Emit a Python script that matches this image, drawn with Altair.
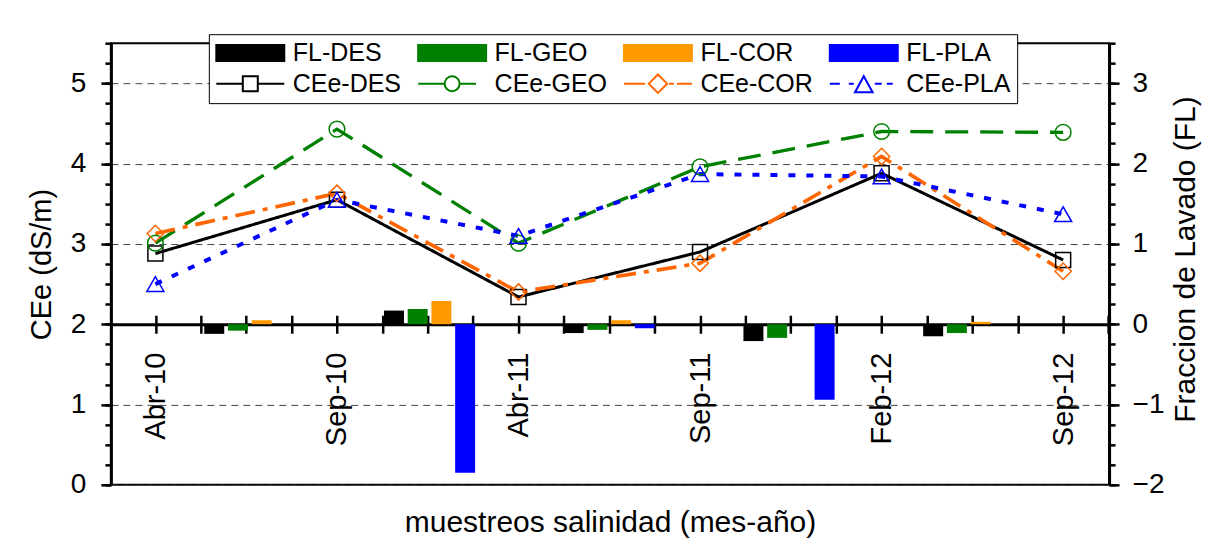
import altair as alt
import pandas as pd

# ---------------- data ----------------
fechas = ["Abr-10", "Sep-10", "Abr-11", "Sep-11", "Feb-12", "Sep-12"]
fecha_idx = [0, 1, 2, 3, 4, 5]

series_cee = ["CEe-DES", "CEe-GEO", "CEe-COR", "CEe-PLA"]
cee_des = [2.88, 3.55, 2.34, 2.90, 3.88, 2.80]
cee_geo = [3.01, 4.43, 3.01, 3.96, 4.40, 4.39]
cee_cor = [3.13, 3.63, 2.40, 2.76, 4.09, 2.66]
cee_pla = [2.50, 3.55, 3.10, 3.87, 3.84, 3.37]

series_fl = ["FL-DES", "FL-GEO", "FL-COR", "FL-PLA"]
periodo_idx = [0, 1, 2, 3, 4]
fl_des = [-0.12, 0.17, -0.11, -0.21, -0.15]
fl_geo = [-0.08, 0.19, -0.07, -0.17, -0.11]
fl_cor = [0.05, 0.29, 0.05, 0.00, 0.03]
fl_pla = [0.00, -1.85, -0.05, -0.94, 0.00]

# ---------------- styles ----------------
FONT = "Liberation Sans"
FS = 28
FT = 29
FL_LEG = 25
col_lines = ["#000000", "#008000", "#FF6600", "#0000FF"]
col_bars = ["#000000", "#008000", "#FF9900", "#0000FF"]
dashes = [[1, 0], [23, 12], [20, 8, 5, 8], [7, 11]]
widths = [3, 4, 4, 4]
shapes = ["square", "circle", "diamond", "triangle-up"]
msizes = [225, 290, 400, 380]

xdom = [-0.245, 5.253]
ydom_cee = [0, 5.5]
ydom_fl = [-2, 3.5]
W, H = 999, 442
zero_off = H * 2 / 5.5

# ---------------- tables ----------------
rows = []
for s, vals in zip(series_cee, [cee_des, cee_geo, cee_cor, cee_pla]):
    for i, v in zip(fecha_idx, vals):
        rows.append({"idx": i, "serie": s, "CEe": v})
df_cee = pd.DataFrame(rows)

rows = []
for k, (s, vals) in enumerate(zip(series_fl, [fl_des, fl_geo, fl_cor, fl_pla])):
    for p, v in zip(periodo_idx, vals):
        rows.append({"periodo": p, "k": k, "serie_fl": s, "FL": v})
df_fl = pd.DataFrame(rows)

# legend symbols (symbolSize 400 -> 10 px per path unit, centred 2.3 units right)
ley_dom = series_fl + series_cee
rect = "M-1.1,-0.8L5.7,-0.8L5.7,0.8L-1.1,0.8Z"
p_des = "M-1.1,0L1.55,0M3.05,0L5.7,0M1.55,-0.75L3.05,-0.75L3.05,0.75L1.55,0.75Z"
p_geo = "M-1.1,0L1.55,0M3.05,0L4.7,0M3.05,0A0.75,0.75 0 1,1 1.55,0A0.75,0.75 0 1,1 3.05,0Z"
p_cor = "M-1.1,0L1.0,0M3.4,0L3.9,0M4.2,0L5.7,0M2.3,-0.92L3.22,0L2.3,0.92L1.38,0Z"
p_pla = "M-1.1,0L-0.1,0M0.8,0L1.3,0M3.4,0L4.1,0M4.6,0L5.2,0M2.3,-0.75L3.18,0.85L1.42,0.85Z"
ley_paths = [rect, rect, rect, rect, p_des, p_geo, p_cor, p_pla]
ley_fill = col_bars + ["transparent"] * 4
ley_stroke = col_bars + col_lines

xs = alt.Scale(domain=xdom, nice=False, zero=False)
ticks_x = [i * 0.25 for i in range(0, 22)]
lab_expr = "datum.value % 1 == 0 ? " + str(fechas) + "[datum.value] : ''"

stroke_scale = alt.Scale(domain=series_cee, range=col_lines)

# A: lines with left axis + x labels axis
lines = alt.Chart(df_cee).mark_line(clip=False).encode(
    x=alt.X("idx:Q", scale=xs, axis=alt.Axis(
        orient="bottom", offset=-zero_off, values=ticks_x, labelExpr=lab_expr,
        labelAngle=270, labelAlign="right", labelBaseline="middle",
        labelPadding=19, labelFontSize=29, tickSize=9, tickWidth=2.5, tickColor="black",
        domainColor="black", domainWidth=3, grid=False,
        title="muestreos salinidad (mes-año)", titleX=W / 2, titleY=198,
        titleBaseline="middle", titleAlign="center", titleFontSize=FT + 1,
        titleFontWeight="normal")),
    y=alt.Y("CEe:Q", scale=alt.Scale(domain=ydom_cee, nice=False), axis=alt.Axis(
        orient="left", values=[0, 1, 2, 3, 4, 5], tickSize=10, tickWidth=2.5,
        labelPadding=15, domainWidth=3, domainColor="black", tickColor="black",
        grid=True, gridDash=[7, 5], gridColor="#444444", gridWidth=1,
        title="CEe (dS/m)", titleAngle=270, titleX=-69, titleY=H / 2,
        titleBaseline="middle", titleAlign="center", titleFontSize=FT,
        titleFontWeight="normal")),
    stroke=alt.Stroke("serie:N", scale=stroke_scale, legend=None),
    strokeDash=alt.StrokeDash("serie:N", scale=alt.Scale(domain=series_cee, range=dashes), legend=None),
    strokeWidth=alt.StrokeWidth("serie:N", scale=alt.Scale(domain=series_cee, range=widths), legend=None),
)

# B: markers with minor ticks (left, and up on the zero line)
points = alt.Chart(df_cee).mark_point(filled=False, strokeWidth=1.5, opacity=1).encode(
    x=alt.X("idx:Q", scale=xs, axis=alt.Axis(
        orient="top", offset=-(H - zero_off), values=ticks_x, labels=False,
        tickSize=9, tickWidth=2.5, tickColor="black", domain=False, grid=False, title=None)),
    y=alt.Y("CEe:Q", scale=alt.Scale(domain=ydom_cee, nice=False), axis=alt.Axis(
        orient="left", values=[i * 0.25 for i in range(0, 23)], labels=False,
        tickSize=6, tickWidth=2.5, tickColor="black", domain=False, grid=False, title=None)),
    stroke=alt.Stroke("serie:N", scale=stroke_scale, legend=None),
    shape=alt.Shape("serie:N", scale=alt.Scale(domain=series_cee, range=shapes), legend=None),
    size=alt.Size("serie:N", scale=alt.Scale(domain=series_cee, range=msizes), legend=None),
)

# D: bars on right axis
bars = alt.Chart(df_fl).transform_calculate(
    xpos="datum.periodo + 0.5 + (datum.k - 1.5) * 0.132"
).mark_bar(size=20, clip=False).encode(
    x=alt.X("xpos:Q", scale=xs, axis=None),
    y=alt.Y("FL:Q", scale=alt.Scale(domain=ydom_fl, nice=False, zero=True), axis=alt.Axis(
        orient="right", values=[-2, -1, 0, 1, 2, 3], tickSize=10, tickWidth=2.5,
        labelPadding=13, domainWidth=3, domainColor="black", tickColor="black",
        grid=False, title="Fraccion de Lavado (FL)", titleAngle=270, titleX=76,
        titleY=H / 2 - 5, titleBaseline="middle", titleAlign="center", titleFontSize=FT + 1,
        titleFontWeight="normal")),
    color=alt.Color("serie_fl:N", scale=alt.Scale(domain=series_fl, range=col_bars), legend=None),
)

# C: legend + right minor ticks (no data drawn)
leg_props = dict(
    orient="none", legendX=98, legendY=-9, columns=4, direction="horizontal",
    title=None, symbolSize=400, symbolStrokeWidth=2, labelFont=FONT,
    labelFontSize=FL_LEG, labelColor="black", labelOffset=53, fillColor="white",
    strokeColor="black", padding=6, columnPadding=12, rowPadding=4, symbolOpacity=1,
)
legend_layer = alt.Chart(df_cee).transform_filter("false").mark_point(filled=True).encode(
    y=alt.Y("CEe:Q", scale=alt.Scale(domain=ydom_fl, nice=False), axis=alt.Axis(
        orient="right", values=[-2 + i * 0.25 for i in range(0, 23)], labels=False,
        tickSize=6, tickWidth=2.5, tickColor="black", domain=False, grid=False, title=None)),
    fill=alt.Fill("ley:N", scale=alt.Scale(domain=ley_dom, range=ley_fill), legend=alt.Legend(**leg_props)),
    stroke=alt.Stroke("ley:N", scale=alt.Scale(domain=ley_dom, range=ley_stroke), legend=alt.Legend(**leg_props)),
    shape=alt.Shape("ley:N", scale=alt.Scale(domain=ley_dom, range=ley_paths), legend=alt.Legend(**leg_props)),
)

chart = alt.layer(bars, lines, points, legend_layer).resolve_scale(
    x="independent", y="independent", stroke="independent", shape="independent",
    strokeDash="independent", strokeWidth="independent", size="independent",
    color="independent", fill="independent",
).properties(
    width=W, height=H,
    padding={"left": 103, "top": 35, "right": 98, "bottom": 54},
    autosize=alt.AutoSizeParams(type="none"),
    background="white",
).configure_view(
    stroke="black", strokeWidth=2,
).configure_axis(
    labelFont=FONT, titleFont=FONT, labelFontSize=FS, labelColor="black",
    titleColor="black",
)

chart.save("out.html", embed_options={"renderer": "svg", "actions": False})
